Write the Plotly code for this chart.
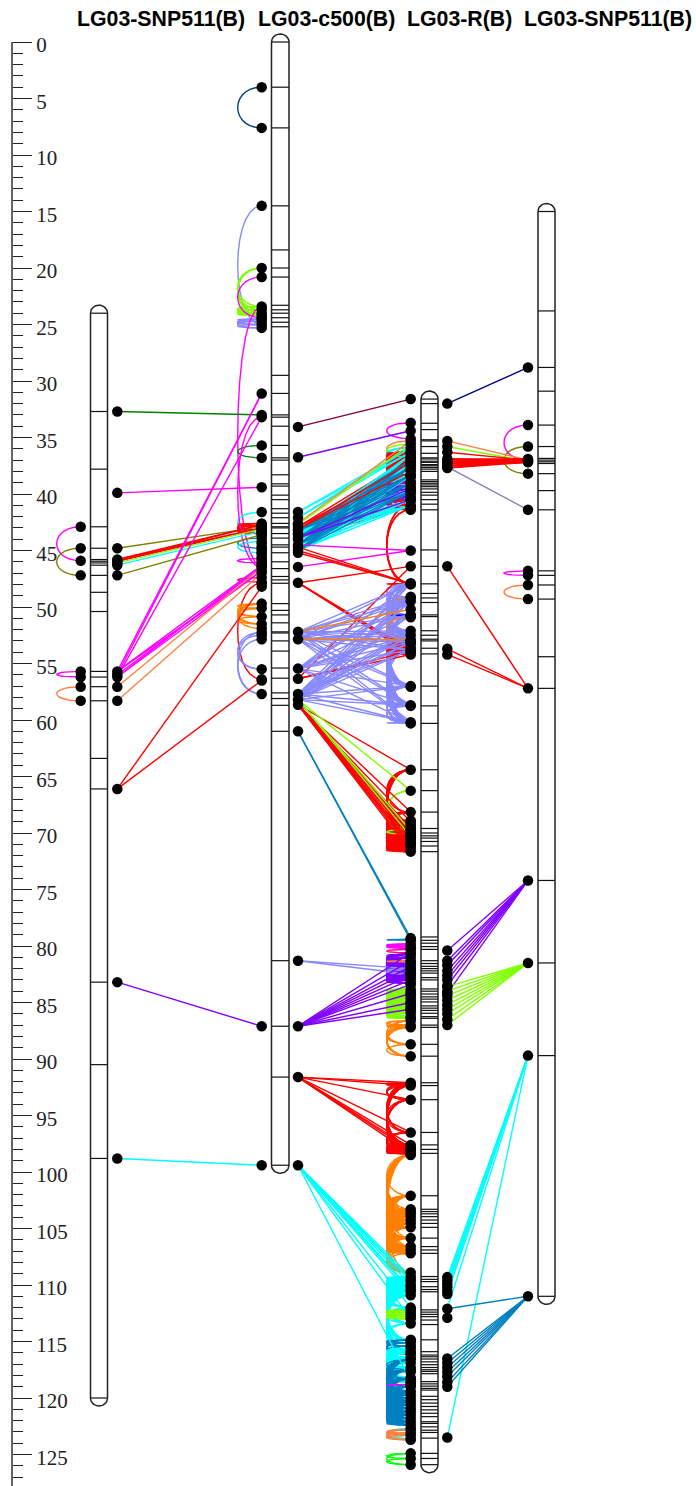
import itertools
import math
import plotly.graph_objects as go

TITLES = ["LG03-SNP511(B)", "LG03-c500(B)", "LG03-R(B)", "LG03-SNP511(B)"]
TITLE_X = [161, 326, 459, 608]

# chromosome marker positions (cM)
chrom_a = [24.0, 32.7, 37.8, 42.9, 44.8, 45.8, 45.95, 46.1, 46.3, 47.2, 48.7, 50.4, 55.7, 56.2, 57.05, 58.3,
           63.4, 66.1, 83.2, 90.5, 98.8, 120.0]
chrom_b = [0.0, 4.0, 7.6, 14.5, 18.4, 20.0, 20.8, 23.3, 23.7, 24.0, 24.4, 24.8, 25.2, 29.5, 31.1, 33.0, 33.2, 34.0,
           35.7, 36.8, 37.0, 38.3, 39.1, 39.3, 40.1, 40.5, 41.3, 41.7, 42.1, 42.6, 42.9, 43.0, 43.5, 43.9, 44.5,
           44.7, 45.2, 46.0, 46.6, 47.3, 47.6, 47.9, 49.7, 50.3, 50.7, 51.4, 52.2, 52.3, 53.0, 53.9, 55.4, 56.3,
           57.6, 58.1, 58.7, 61.0, 81.3, 87.1, 91.6, 99.4]
chrom_c = [31.6, 32.0, 33.74, 34.3, 35.2, 35.3, 35.8, 36.4, 36.8, 36.9, 37.1, 37.2, 37.4, 37.5, 37.65, 37.8, 38.0,
           38.75, 38.9, 39.05, 39.2, 39.35, 39.55, 39.85, 40.1, 40.5, 40.9, 41.4, 44.95, 46.4, 47.95, 48.8, 49.2,
           49.6, 50.7, 50.85, 52.1, 52.5, 52.85, 53.0, 53.65, 54.15, 57.0, 58.75, 60.3, 64.4, 66.25, 68.15, 69.6,
           70.0, 70.25, 70.45, 70.75, 71.15, 71.65, 79.2, 79.5, 79.75, 80.05, 80.3, 81.3, 81.55, 81.8, 82.0, 82.2,
           82.4, 82.8, 83.0, 83.8, 84.0, 84.25, 84.5, 84.7, 84.95, 85.3, 85.5, 85.7, 85.95, 86.25, 86.4, 87.0,
           87.2, 88.7, 89.75, 92.1, 92.35, 93.6, 96.5, 97.6, 98.0, 98.35, 102.1, 103.3, 103.5, 103.7, 103.95,
           104.25, 104.55, 104.9, 105.85, 106.6, 106.9, 107.2, 109.25, 109.5, 109.7, 110.15, 110.4, 110.6, 112.2,
           112.4, 112.6, 112.8, 113.1, 113.5, 114.85, 115.9, 116.2, 116.35, 116.55, 116.8, 117.05, 117.3, 117.5,
           117.65, 117.85, 118.55, 118.75, 118.95, 119.15, 119.3, 119.85, 120.15, 120.45, 120.75, 121.05, 121.35,
           121.65, 122.1, 122.25, 122.55, 122.85, 123.05, 123.55, 124.9, 125.35, 125.9]
chrom_d = [15.0, 23.8, 28.8, 30.9, 33.9, 35.8, 36.85, 37.0, 37.15, 37.3, 38.2, 39.7, 41.4, 46.8, 47.2, 48.05, 49.3,
           54.4, 57.2, 74.2, 81.5, 89.7, 111.0]
CHROM_VALUES = [chrom_a, chrom_b, chrom_c, chrom_d]
CHROM_X = [(90.5, 107.5), (271.5, 289), (421, 438), (538, 555)]

# colours
RED, MAG, PERI, LIME, CYAN, ORNG = "#ff0000", "#ff00ff", "#8888ff", "#80ff00", "#00ffff", "#ff8000"
STEEL, PURP, DGRN, OLIV, CORL = "#0080c0", "#8000ff", "#008000", "#808000", "#ff8040"
NAVY, MARN, BLUE, GRN, PINK, DBLU, SLAT = "#000080", "#800040", "#0000ff", "#00ff00", "#ff0080", "#004080", "#8080c0"

# loops on the left of a chromosome: (column, colour, linked positions)
LOOPS = [
    ("AL", MAG, [42.9, 45.9]), ("AL", OLIV, [44.8, 47.2]), ("AL", MAG, [55.7, 56.2]), ("AL", CORL, [57.05, 58.3]),
    ("BL", DBLU, [4.0, 7.6]), ("BL", PERI, [14.5, 25.0]), ("BL", LIME, [20.0, 23.4, 23.7, 24.0, 24.2]),
    ("BL", MAG, [20.8, 24.4]), ("BL", PERI, [24.5, 24.7, 25.0, 25.3]), ("BL", MAG, [23.4, 46.4]),
    ("BL", DGRN, [35.7, 36.8]), ("BL", CYAN, [41.6, 43.4]), ("BL", RED, [42.6, 42.8, 43.2, 43.5]),
    ("BL", STEEL, [43.9, 44.8]), ("BL", CYAN, [44.2, 45.2]), ("BL", MAG, [45.7, 46.1]), ("BL", PINK, [47.4, 47.8]),
    ("BL", MAG, [33.2, 46.5]), ("BL", RED, [47.9, 56.4]), ("BL", ORNG, [49.7, 50.1, 50.85, 51.5]),
    ("BL", ORNG, [49.7, 51.9]), ("BL", PERI, [52.25, 55.5]), ("BL", PERI, [52.5, 55.5]),
    ("BL", PERI, [52.85, 57.7]), ("BL", PERI, [52.25, 57.7]),
    ("CL", MAG, [33.7, 35.1]), ("CL", CORL, [35.3, 36.7]), ("CL", LIME, [35.6, 36.7]), ("CL", CYAN, [35.9, 36.9, 37.3]),
    ("CL", STEEL, [36.2, 37.4, 38.3, 38.9, 39.6, 40.4]), ("CL", CYAN, [38.5, 39.5, 40.5, 41.0]),
    ("CL", RED, [36.3, 36.5, 36.8, 37.0, 37.2, 37.4, 37.6, 37.8, 38.0]),
    ("CL", PURP, [39.0, 39.3, 39.6, 39.9, 40.2, 40.5, 41.3]), ("CL", RED, [38.9, 40.6, 41.0]),
    ("CL", RED, [41.0, 41.4, 47.9, 48.0]),
    ("CL", PERI, [47.95, 49.1, 49.5, 50.7, 52.1, 52.5, 53.1, 53.8, 57.0, 57.05, 58.7, 58.75, 60.2, 60.3]),
    ("CL", ORNG, [49.2, 50.9]), ("CL", ORNG, [50.9, 52.9]), ("CL", BLUE, [50.7, 50.75]), ("CL", PURP, [53.0, 53.05]),
    ("CL", RED, [53.3, 53.6, 53.9, 54.2]),
    ("CL", RED, [64.4, 68.15, 68.9, 69.2, 69.4, 69.6, 69.8, 70.0, 70.25, 70.45, 70.6, 70.75, 70.95, 71.15, 71.4, 71.65]),
    ("CL", LIME, [66.25, 69.7, 70.1]), ("CL", STEEL, [79.4, 79.5]), ("CL", MAG, [79.8, 80.0, 80.2]),
    ("CL", PINK, [80.3, 80.6]),
    ("CL", PURP, [80.7, 81.0, 81.3, 81.55, 81.8, 82.0, 82.2, 82.4, 82.6, 82.8, 83.0, 83.3]),
    ("CL", CORL, [81.3, 81.4]), ("CL", PERI, [82.0, 82.1, 82.5]),
    ("CL", LIME, [83.8, 84.0, 84.25, 84.5, 84.7, 84.95, 85.1, 85.3, 85.5, 85.7, 85.95, 86.25, 86.4]),
    ("CL", ORNG, [86.6, 87.0, 87.2, 88.7, 89.75]), ("CL", RED, [92.1, 92.2, 92.35, 93.6, 96.5, 97.6, 97.8, 98.0, 98.2, 98.4]),
    ("CL", ORNG, [98.5, 102.1, 103.3, 103.5, 103.7, 103.95, 104.25, 104.55, 104.9, 105.85, 106.6, 106.9, 107.2, 108.9]),
    ("CL", CYAN, [109.25, 109.5, 109.7, 110.0, 110.15, 110.4, 110.6, 110.9, 112.0, 113.4, 114.9, 115.9]),
    ("CL", LIME, [112.2, 112.4, 112.6, 112.8, 113.0]),
    ("CL", STEEL, [114.85, 115.1, 115.4, 116.1]),
    ("CL", CYAN, [115.6, 116.0, 116.4, 116.9, 117.3, 117.7, 118.2, 118.6]),
    ("CL", STEEL, [116.6, 117.5, 118.3, 119.0, 119.4, 119.7, 120.0, 120.3, 120.6, 120.9, 121.2, 121.5, 121.8, 122.1, 122.4]),
    ("CL", MAG, [118.8, 118.85]),
    ("CL", CYAN, [122.7, 123.6]), ("CL", CORL, [122.8, 123.1, 123.3, 123.7]), ("CL", GRN, [124.9, 125.35, 125.9]),
    ("DL", MAG, [33.9, 37.0]), ("DL", OLIV, [35.8, 38.2]), ("DL", MAG, [46.8, 47.2]), ("DL", CORL, [48.05, 49.3]),
]

# straight links between neighbouring chromosomes: (left column, right column, colour, left values, right values)
LINKS = [
    ("AR", "BL", DGRN, [32.7], [33.0]), ("AR", "BL", MAG, [39.9], [39.4]), ("AR", "BL", OLIV, [44.8], [42.9]),
    ("AR", "BL", RED, [45.8, 45.95], [42.7, 43.0]), ("AR", "BL", LIME, [46.1], [43.1]),
    ("AR", "BL", CYAN, [46.3], [43.3]), ("AR", "BL", OLIV, [47.2], [43.6]),
    ("AR", "BL", MAG, [55.7, 56.0], [31.1]), ("AR", "BL", MAG, [56.2], [33.2]),
    ("AR", "BL", MAG, [55.7], [46.3, 46.8]), ("AR", "BL", MAG, [56.0], [46.5]), ("AR", "BL", MAG, [56.2], [46.3, 46.8]),
    ("AR", "BL", CORL, [57.05], [46.5]), ("AR", "BL", CORL, [58.3], [47.0]), ("AR", "BL", RED, [66.1], [48.2, 56.5]),
    ("AR", "BL", PURP, [83.2], [87.1]), ("AR", "BL", CYAN, [98.8], [99.4]),

    ("BR", "CL", MARN, [34.06], [31.6]), ("BR", "CL", PURP, [36.75], [34.4]),
    ("BR", "CL", RED, [42.9, 43.5], [36.8, 37.6]),
    ("BR", "CL", RED, [43.6, 44.0], [40.6, 41.1]),
    ("BR", "CL", CYAN, [41.6, 42.1], [35.9, 36.3]), ("BR", "CL", CORL, [42.6], [35.3]), ("BR", "CL", LIME, [42.7], [35.6]),
    ("BR", "CL", CYAN, [43.5, 44.0, 44.5, 45.0], [36.5, 37.3, 38.4, 39.5, 40.5, 41.0]),
    ("BR", "CL", STEEL, [43.2, 43.9, 44.5, 45.0], [37.0, 37.6, 38.3, 39.0, 39.8]),
    ("BR", "CL", PURP, [43.9], [39.5, 40.5]),
    ("BR", "CL", RED, [43.1], [37.2, 38.0]),
    ("BR", "CL", MAG, [44.5], [45.0]), ("BR", "CL", MAG, [46.45], [45.0]),
    ("BR", "CL", RED, [47.85], [46.4]), ("BR", "CL", RED, [44.7, 45.0, 45.2], [47.95]),
    ("BR", "CL", RED, [47.85], [53.8, 54.0, 54.2]), ("BR", "CL", RED, [56.35], [46.4, 53.9, 54.2]),
    ("BR", "CL", PERI, [52.2, 52.85, 55.45, 57.7, 58.2], [47.95, 49.1, 49.5, 50.7, 52.1, 52.5, 53.1, 53.8, 57.0, 58.7, 60.2]),
    ("BR", "CL", ORNG, [52.2], [50.2]), ("BR", "CL", ORNG, [52.85], [52.9]),
    ("BR", "CL", RED, [58.65], [64.4, 68.15, 69.0, 69.6, 69.8, 70.0, 70.25, 70.45, 70.75, 71.0, 71.15, 71.4, 71.65]),
    ("BR", "CL", LIME, [58.2], [66.25, 69.8, 70.3]), ("BR", "CL", STEEL, [61.0], [79.3, 79.5]),
    ("BR", "CL", PERI, [81.3], [82.0, 82.5]),
    ("BR", "CL", PURP, [87.1], [80.6, 81.3, 81.8, 82.2, 82.6, 83.0, 83.4, 84.2, 85.0, 85.6]),
    ("BR", "CL", RED, [91.6], [92.1, 92.35, 93.6, 96.5, 97.6, 97.9, 98.1, 98.35]),
    ("BR", "CL", CYAN, [99.4], [109.25, 109.5, 109.7, 110.0, 110.4, 110.6, 110.9, 112.0, 113.0, 118.5]),

    ("CR", "DL", NAVY, [32.0], [28.8]), ("CR", "DL", CORL, [35.3], [37.0]), ("CR", "DL", LIME, [35.8], [37.1]),
    ("CR", "DL", RED, [36.3], [37.0]), ("CR", "DL", RED, [36.9, 37.1, 37.3, 37.5, 37.7], [36.9, 37.05, 37.2]),
    ("CR", "DL", SLAT, [37.6], [41.4]), ("CR", "DL", RED, [46.4], [57.2]), ("CR", "DL", RED, [53.7, 54.2], [57.2]),
    ("CR", "DL", PURP, [80.4, 81.3, 81.7, 82.2, 82.6, 83.0, 83.5, 84.2], [74.2]),
    ("CR", "DL", LIME, [83.6, 84.0, 84.4, 84.8, 85.2, 85.6, 86.0, 86.5, 87.0], [81.5]),
    ("CR", "DL", CYAN, [109.3, 109.6, 109.9, 110.2, 110.5, 110.8, 112.1], [89.7]),
    ("CR", "DL", CYAN, [123.5], [89.7]),
    ("CR", "DL", STEEL, [112.1, 116.5, 116.9, 117.3, 117.7, 118.1, 118.6, 119.0], [111.0]),
]
EXTRA_DOTS = {"CR": [112.9], "CL": [71.65], "BL": [44.4, 44.7, 45.0, 45.3, 45.6, 45.9]}

COLUMN_X = {"AL": 80.7, "AR": 117.3, "BL": 261.7, "BR": 298, "CL": 410.7, "CR": 447.3, "DL": 528}
LOOP_PULL = 32
RULER_END = 127.8
major_ticks = list(range(0, 130, 5))
minor_ticks = list(range(0, 128))

PX = 11.3
Y_TOP, Y_BOTTOM = -42 / PX, (1486 - 42) / PX

fig = go.Figure()

# chromosome outlines and marker ticks
ox, oy, tx, ty = [], [], [], []
for (x0, x1), vals in zip(CHROM_X, CHROM_VALUES):
    cap = 8 / PX
    xm, r = (x0 + x1) / 2, (x1 - x0) / 2
    t = [math.pi * i / 16 for i in range(17)]
    ox += [xm - r * math.cos(a) for a in t] + [xm + r * math.cos(a) for a in t] + [xm - r, None]
    oy += [vals[0] - cap * math.sin(a) for a in t] + [vals[-1] + cap * math.sin(a) for a in t] + [vals[0], None]
    for v in vals:
        tx += [x0, x1, None]
        ty += [v, v, None]
fig.add_trace(go.Scatter(x=tx, y=ty, mode="lines", line=dict(color="#111111", width=1.2), hoverinfo="skip"))
fig.add_trace(go.Scatter(x=ox, y=oy, mode="lines", line=dict(color="#222222", width=1.5), hoverinfo="skip"))

# ruler spine
fig.add_trace(go.Scatter(x=[12, 12], y=[0, RULER_END], mode="lines", line=dict(color="#222222", width=1.4), hoverinfo="skip"))

dots = {k: set(v) for k, v in EXTRA_DOTS.items()}

def bez(x, y1, y2):
    xs, ys = [], []
    for i in range(15):
        u = i / 14
        v = 1 - u
        xs.append(x - LOOP_PULL * 3 * u * v)
        ys.append(y1 * (v ** 3 + 3 * u * v * v) + y2 * (u ** 3 + 3 * u * u * v))
    return xs + [None], ys + [None]

for col, color, vals in LOOPS:
    xs, ys = [], []
    for a, b in itertools.combinations(vals, 2):
        p, q = bez(COLUMN_X[col], a, b)
        xs += p
        ys += q
    dots.setdefault(col, set()).update(vals)
    fig.add_trace(go.Scatter(x=xs, y=ys, mode="lines", line=dict(color=color, width=1.4), hoverinfo="skip"))

for c0, c1, color, left, right in LINKS:
    xs, ys = [], []
    for a in left:
        for b in right:
            xs += [COLUMN_X[c0], COLUMN_X[c1], None]
            ys += [a, b, None]
    dots.setdefault(c0, set()).update(left)
    dots.setdefault(c1, set()).update(right)
    fig.add_trace(go.Scatter(x=xs, y=ys, mode="lines", line=dict(color=color, width=1.4), hoverinfo="skip"))

for col, vals in dots.items():
    vs = sorted(vals)
    fig.add_trace(go.Scatter(x=[COLUMN_X[col]] * len(vs), y=vs, mode="markers",
                             marker=dict(color="black", size=10.5), hoverinfo="skip"))

for name, x in zip(TITLES, TITLE_X):
    fig.add_annotation(x=x, y=(19 - 42) / PX, xref="x", yref="y", text=f"<b>{name}</b>", showarrow=False,
                       font=dict(family="Liberation Sans", size=21.3, color="black"), yanchor="middle", xanchor="center")

fig.update_layout(
    width=696, height=1486, margin=dict(l=0, r=0, t=0, b=0), autosize=False,
    paper_bgcolor="white", plot_bgcolor="white", showlegend=False,
    xaxis=dict(range=[0, 696], visible=False, domain=[0, 1]),
    yaxis=dict(range=[Y_BOTTOM, Y_TOP], side="right", anchor="free", position=12 / 696, showgrid=False, zeroline=False,
               showline=False, tickmode="array", tickvals=major_ticks, ticktext=[str(v) for v in major_ticks],
               ticks="outside", ticklen=19, tickwidth=1.4, tickcolor="#222222", ticklabelshift=-3,
               tickfont=dict(family="Liberation Sans Narrow", size=21, color="#222222"),
               minor=dict(tickmode="array", tickvals=minor_ticks, ticks="outside", ticklen=10, tickwidth=1.4,
                          tickcolor="#222222", showgrid=False)),
)
fig.write_html("out.html", config={"displayModeBar": False},
               post_script="document.body.style.margin='0';document.body.style.overflow='hidden';")
